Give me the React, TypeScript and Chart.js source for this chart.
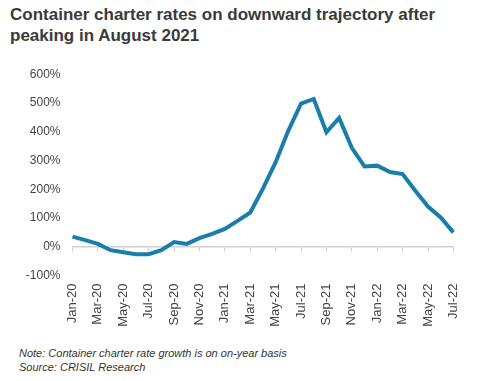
import React, { useEffect, useRef } from "react";
import { Chart, registerables } from "chart.js";

Chart.register(...registerables);

const months: string[] = [
  "Jan-20", "Feb-20", "Mar-20", "Apr-20", "May-20", "Jun-20", "Jul-20", "Aug-20", "Sep-20", "Oct-20", "Nov-20", "Dec-20",
  "Jan-21", "Feb-21", "Mar-21", "Apr-21", "May-21", "Jun-21", "Jul-21", "Aug-21", "Sep-21", "Oct-21", "Nov-21", "Dec-21",
  "Jan-22", "Feb-22", "Mar-22", "Apr-22", "May-22", "Jun-22", "Jul-22",
];

const growth: number[] = [
  35, 23, 10, -12, -19, -26, -26, -12, 16, 10, 30, 45,
  62, 90, 119, 202, 294, 404, 498, 514, 398, 448, 344, 279,
  282, 260, 253, 195, 140, 102, 50,
];

const yTicks: number[] = [-100, 0, 100, 200, 300, 400, 500, 600];

const TITLE = "Container charter rates on downward trajectory after peaking in August 2021";
const NOTE = "Note: Container charter rate growth is on on-year basis";
const SOURCE = "Source: CRISIL Research";

const FONT = "'Liberation Sans', Arial, sans-serif";
const LABEL_COLOR = "#444444";
const AXIS_COLOR = "#d0d0d0";
const LINE_COLOR = "#1a7dab";

export default function App() {
  const canvasRef = useRef<HTMLCanvasElement | null>(null);

  useEffect(() => {
    if (!canvasRef.current) return;
    const chart = new Chart(canvasRef.current, {
      type: "line",
      data: {
        labels: months,
        datasets: [
          {
            data: growth,
            borderColor: LINE_COLOR,
            borderWidth: 4,
            pointRadius: 0,
            tension: 0,
            fill: false,
            xAxisID: "x",
            yAxisID: "y",
          },
        ],
      },
      options: {
        animation: false,
        responsive: true,
        maintainAspectRatio: false,
        layout: { padding: { left: 0, right: 23, top: 18, bottom: 0 } },
        plugins: {
          legend: { display: false },
          tooltip: { enabled: false },
          title: { display: false },
        },
        scales: {
          y: {
            min: -100,
            max: 600,
            afterBuildTicks: (s: any) => {
              s.ticks = yTicks.map((v) => ({ value: v }));
            },
            afterFit: (s: any) => {
              s.width = 72.5;
            },
            ticks: {
              callback: (v: any) => `${v}%`,
              font: { family: FONT, size: 12 },
              color: LABEL_COLOR,
              padding: 12,
            },
            grid: { display: false, drawTicks: false },
            border: { display: false },
          },
          x: {
            type: "category",
            position: "bottom",
            afterFit: (s: any) => {
              s.height = 59.5;
            },
            ticks: {
              autoSkip: false,
              minRotation: 90,
              maxRotation: 90,
              callback: (_v: any, i: number) => (i % 2 === 0 ? months[i] : ""),
              font: { family: FONT, size: 13 },
              color: LABEL_COLOR,
              padding: 8,
            },
            grid: { display: false, drawTicks: false },
            border: { display: false },
          },
          x2: {
            type: "category",
            labels: months,
            position: { y: 0 } as any,
            ticks: { display: false, autoSkip: false },
            grid: {
              display: true,
              drawOnChartArea: false,
              drawTicks: true,
              tickLength: 4,
              lineWidth: 1,
              color: (ctx: any) => (ctx.index % 2 === 0 ? AXIS_COLOR : "rgba(0,0,0,0)"),
            },
            border: { display: true, color: AXIS_COLOR, width: 1.5 },
          },
        },
      },
    });
    return () => chart.destroy();
  }, []);

  return (
    <div
      style={{
        position: "fixed",
        left: 0,
        top: 0,
        width: 477,
        height: 381,
        background: "#ffffff",
        fontFamily: FONT,
        overflow: "hidden",
      }}
    >
      <div
        style={{
          position: "absolute",
          left: 10,
          top: 4,
          width: 460,
          fontSize: 17,
          lineHeight: "21px",
          fontWeight: 700,
          color: "#3a3a3a",
        }}
      >
        {TITLE}
      </div>
      <div style={{ position: "absolute", left: 0, top: 55, width: 477, height: 280 }}>
        <canvas ref={canvasRef} />
      </div>
      <div
        style={{
          position: "absolute",
          left: 19,
          top: 346,
          fontSize: 11,
          lineHeight: "14px",
          fontStyle: "italic",
          color: "#333333",
          whiteSpace: "nowrap",
        }}
      >
        <div>{NOTE}</div>
        <div>{SOURCE}</div>
      </div>
    </div>
  );
}
